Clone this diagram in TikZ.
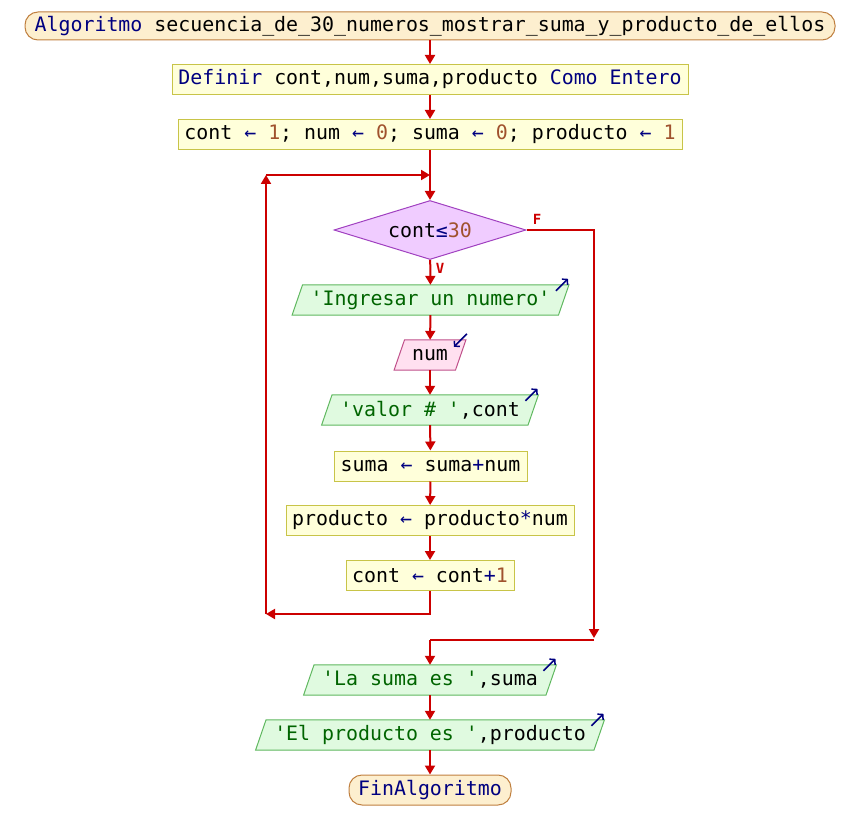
\documentclass[tikz,border=0pt]{standalone}
\usepackage{fontspec}
\setmonofont{DejaVu Sans Mono}
\usetikzlibrary{arrows.meta,shapes.geometric,calc}
\definecolor{kwc}{HTML}{000080}
\definecolor{numc}{HTML}{A0522D}
\definecolor{strc}{HTML}{006400}
\definecolor{flowc}{HTML}{CC0000}
\definecolor{termf}{HTML}{FDEFCF}
\definecolor{termb}{HTML}{C08040}
\definecolor{procf}{HTML}{FFFFDA}
\definecolor{procb}{HTML}{C8C448}
\definecolor{decf}{HTML}{F0CCFF}
\definecolor{decb}{HTML}{A040C0}
\definecolor{outf}{HTML}{E0FAE0}
\definecolor{outb}{HTML}{60B860}
\definecolor{inf}{HTML}{FFE0F0}
\definecolor{inb}{HTML}{C0508A}
\newcommand{\pskw}[1]{\textcolor{kwc}{#1}}
\newcommand{\psnum}[1]{\textcolor{numc}{#1}}
\newcommand{\psstr}[1]{\textcolor{strc}{#1}}
\newcommand{\psop}[1]{\textcolor{kwc}{#1}}
\pgfdeclarelayer{bg}
\pgfsetlayers{bg,main}
\begin{document}
\begin{tikzpicture}[x=1pt,y=-1pt,
  font=\fontsize{19.9}{22}\selectfont\ttfamily,
  term/.style={draw=termb, fill=termf, rounded corners=13pt, minimum height=28pt, inner sep=0pt, line width=1pt},
  proc/.style={draw=procb, fill=procf, minimum height=30pt, inner sep=0pt, line width=1pt},
  iobox/.style={minimum height=30pt, inner sep=0pt},
  outshape/.style={draw=outb, fill=outf, line width=1pt},
  inshape/.style={draw=inb, fill=inf, line width=1pt},
  dec/.style={diamond, shape aspect=3.25, draw=decb, fill=decf, minimum width=192pt, minimum height=59pt, inner sep=0pt, line width=1pt},
  flow/.style={draw=flowc, line width=2pt, -{Triangle[width=10pt,length=9pt]}},
  plain/.style={draw=flowc, line width=2pt},
  icon/.style={draw=kwc, line width=1.5pt, -{Straight Barb[length=3.5pt,width=8pt]}},
  lbl/.style={text=flowc, font=\fontsize{14}{14}\selectfont\ttfamily\bfseries, inner sep=0pt}
]
\useasboundingbox (0,0) rectangle (860,840);

\node[term, minimum width=810pt] (title) at (430,26) {\pskw{Algoritmo} secuencia\_de\_30\_numeros\_mostrar\_suma\_y\_producto\_de\_ellos};
\node[proc, minimum width=516pt] (def) at (430,79.5) {\pskw{Definir} cont,num,suma,producto \pskw{Como Entero}};
\node[proc, minimum width=504pt] (init) at (430,134.5) {cont \psop{←} \psnum{1}; num \psop{←} \psnum{0}; suma \psop{←} \psnum{0}; producto \psop{←} \psnum{1}};
\node[dec] (cond) at (430,230) {cont\psop{≤}\psnum{30}};
\node[iobox, minimum width=266pt] (out1) at (430.5,300) {\psstr{'Ingresar un numero'}};
\node[iobox, minimum width=61pt] (in1) at (430,355) {num};
\node[iobox, minimum width=206pt] (out2) at (430,410) {\psstr{'valor \# '},cont};
\node[proc, minimum width=193pt] (s1) at (430.5,466) {suma \psop{←} suma\psop{+}num};
\node[proc, minimum width=288pt] (s2) at (430,520.5) {producto \psop{←} producto\psop{*}num};
\node[proc, minimum width=168pt] (s3) at (430,575.5) {cont \psop{←} cont\psop{+}\psnum{1}};
\node[iobox, minimum width=242pt] (out3) at (430,680) {\psstr{'La suma es '},suma};
\node[iobox, minimum width=338pt] (out4) at (430,735) {\psstr{'El producto es '},producto};
\node[term, minimum width=162pt, minimum height=30pt] (fin) at (430,790) {\pskw{FinAlgoritmo}};

\begin{pgfonlayer}{bg}
\foreach \n/\st in {out1/outshape,out2/outshape,out3/outshape,out4/outshape,in1/inshape}{
  \draw[\st] ($(\n.south west)+(-5.25,0)$) -- ($(\n.north west)+(5.25,0)$) -- ($(\n.north east)+(5.25,0)$) -- ($(\n.south east)+(-5.25,0)$) -- cycle;
}
\end{pgfonlayer}

% output / input icons
\foreach \n in {out1,out2,out3,out4}{
  \draw[icon] ($(\n.north east)+(-7.75,6)$) -- ++(12,-12);
}
\draw[icon] ($(in1.north east)+(6.25,-6)$) -- ++(-13,13);

% coordinates
\coordinate (lj) at (430,175);
\coordinate (lb1) at (266,614);
\coordinate (lb2) at (266,175);
\coordinate (fr) at (594,638);
\coordinate (fr2) at (594,640);
\coordinate (fj) at (430,640);

% connectors
\draw[flow] (title) -- (def);
\draw[flow] (def) -- (init);
\draw[flow] (init) -- (cond);
\draw[flow] (cond) -- (out1);
\draw[flow] (out1) -- (in1);
\draw[flow] (in1) -- (out2);
\draw[flow] (out2) -- (s1);
\draw[flow] (s1) -- (s2);
\draw[flow] (s2) -- (s3);
\draw[flow] (s3.south) |- (lb1);
\draw[flow] (lb1) -- (lb2);
\draw[flow] (lb2) -- (lj);
\draw[flow] (cond.east) -| (fr);
\draw[plain] (fr2) -- (fj);
\draw[flow] (fj) -- (out3);
\draw[flow] (out3) -- (out4);
\draw[flow] (out4) -- (fin);

\node[lbl] (flab) at (537,219) {F};
\node[lbl] (vlab) at (440,268) {V};
\end{tikzpicture}
\end{document}
